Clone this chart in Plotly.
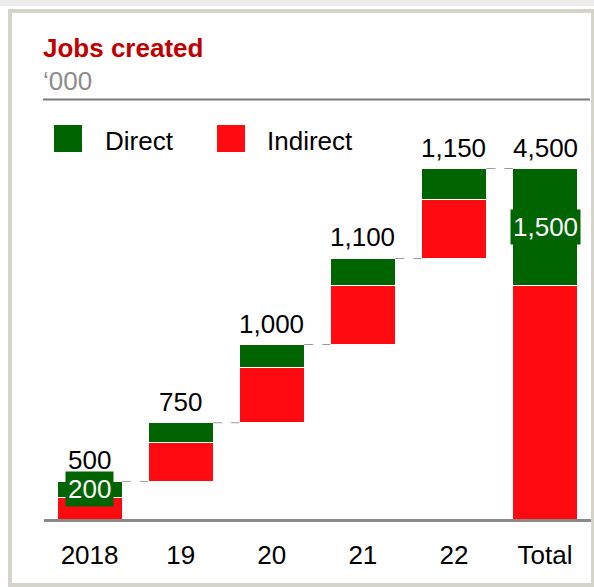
import numpy as np
import plotly.graph_objects as go

# ---------------- data ----------------
categories = ["2018", "19", "20", "21", "22", "Total"]
direct = [200, 250, 300, 350, 400, 1500]
indirect = [300, 500, 700, 750, 750, 3000]
total_labels = ["500", "750", "1,000", "1,100", "1,150", "4,500"]
boxed_direct_labels = {"2018": "200", "Total": "1,500"}

# ---------------- derived ----------------
totals = [d + n for d, n in zip(direct, indirect)]
yearly = totals[:-1]
base_years = [0] + [int(v) for v in np.cumsum(yearly)[:-1]]
base = base_years + [0]
tops = [b + t for b, t in zip(base, totals)]

W, H = 594, 587
GREEN = "#006400"
RED = "#ff0a10"
FONT = "Liberation Sans, Arial, sans-serif"
FS = 26

def px(x):
    return x / W

def py(y):
    return 1 - y / H

# axis geometry (pixels)
baseline_px = 520.5
pad_px = 4
top_px = 100
px_per_unit = 352 / 4500
ymax = (baseline_px - top_px) / px_per_unit
ymin = -pad_px / px_per_unit
bargap = 0.287
bw = 1 - bargap

fig = go.Figure()
fig.add_trace(go.Bar(x=categories, y=base, marker=dict(color="rgba(0,0,0,0)", line=dict(width=0)),
                     showlegend=False, hoverinfo="skip"))
fig.add_trace(go.Bar(x=categories, y=indirect, name="Indirect",
                     marker=dict(color=RED, line=dict(color="white", width=1)), showlegend=False))
fig.add_trace(go.Bar(x=categories, y=direct, name="Direct",
                     marker=dict(color=GREEN, line=dict(color="white", width=1)), showlegend=False))

shapes = []
# outer panel frame
shapes.append(dict(type="rect", xref="paper", yref="paper", x0=px(0), x1=px(W), y0=py(0), y1=py(6),
                   fillcolor="#ececec", line=dict(width=0), layer="below"))
shapes.append(dict(type="rect", xref="paper", yref="paper", x0=px(10), x1=px(593), y0=py(11), y1=py(585),
                   line=dict(color="#d6d3cb", width=4), fillcolor="rgba(0,0,0,0)", layer="below"))
# rule under subtitle
shapes.append(dict(type="line", xref="paper", yref="paper", x0=px(43), x1=px(590), y0=py(99.5), y1=py(99.5),
                   line=dict(color="#7a7a7a", width=2)))
# connectors
for i in range(len(categories) - 1):
    lvl = tops[i]
    shapes.append(dict(type="line", xref="x", yref="y", x0=i + bw / 2, x1=i + 1 - bw / 2, y0=lvl, y1=lvl,
                       line=dict(color="#9a9a9a", width=1, dash="dash")))
# baseline
shapes.append(dict(type="line", xref="paper", yref="y", x0=px(44), x1=px(591), y0=0, y1=0,
                   line=dict(color="#8a8a8a", width=3)))
# legend swatches
shapes.append(dict(type="rect", xref="paper", yref="paper", x0=px(54), x1=px(82), y0=py(125), y1=py(152),
                   fillcolor=GREEN, line=dict(width=0)))
shapes.append(dict(type="rect", xref="paper", yref="paper", x0=px(217), x1=px(245), y0=py(125), y1=py(152),
                   fillcolor=RED, line=dict(width=0)))

annotations = []
annotations.append(dict(text="<b>Jobs created</b>", xref="paper", yref="paper", x=px(41), y=py(48),
                        xanchor="left", yanchor="middle", showarrow=False,
                        font=dict(family=FONT, size=FS, color="#c00000")))
annotations.append(dict(text="\u2018000", xref="paper", yref="paper", x=px(41), y=py(81.5),
                        xanchor="left", yanchor="middle", showarrow=False,
                        font=dict(family=FONT, size=FS, color="#8c8c8c")))
annotations.append(dict(text="Direct", xref="paper", yref="paper", x=px(103), y=py(140.5),
                        xanchor="left", yanchor="middle", showarrow=False,
                        font=dict(family=FONT, size=FS, color="black")))
annotations.append(dict(text="Indirect", xref="paper", yref="paper", x=px(265), y=py(140.5),
                        xanchor="left", yanchor="middle", showarrow=False,
                        font=dict(family=FONT, size=FS, color="black")))
for i, c in enumerate(categories):
    annotations.append(dict(text=total_labels[i], x=i, y=tops[i], xref="x", yref="y", yshift=21,
                            yanchor="middle", showarrow=False,
                            font=dict(family=FONT, size=FS, color="black")))
    if c in boxed_direct_labels:
        annotations.append(dict(text=boxed_direct_labels[c], x=i, y=base[i] + indirect[i] + direct[i] / 2,
                                xref="x", yref="y", yanchor="middle", showarrow=False,
                                bgcolor=GREEN, borderpad=2,
                                font=dict(family=FONT, size=FS, color="white")))

fig.update_layout(
    width=W, height=H,
    margin=dict(l=0, r=0, t=0, b=0),
    paper_bgcolor="white", plot_bgcolor="white",
    barmode="stack", bargap=bargap,
    showlegend=False,
    shapes=shapes, annotations=annotations,
    xaxis=dict(domain=[px(44), px(590.6)], range=[-0.5, 5.5], type="category",
               showgrid=False, zeroline=False, showline=False,
               ticks="outside", ticklen=7, tickcolor="rgba(0,0,0,0)",
               tickfont=dict(family=FONT, size=FS, color="black")),
    yaxis=dict(domain=[py(baseline_px + pad_px), py(top_px)], range=[ymin, ymax], visible=False,
               showgrid=False, zeroline=False),
    font=dict(family=FONT),
)

fig.write_html("out.html", config={"displayModeBar": False},
               post_script="document.body.style.margin='0';document.body.style.overflow='hidden';")
